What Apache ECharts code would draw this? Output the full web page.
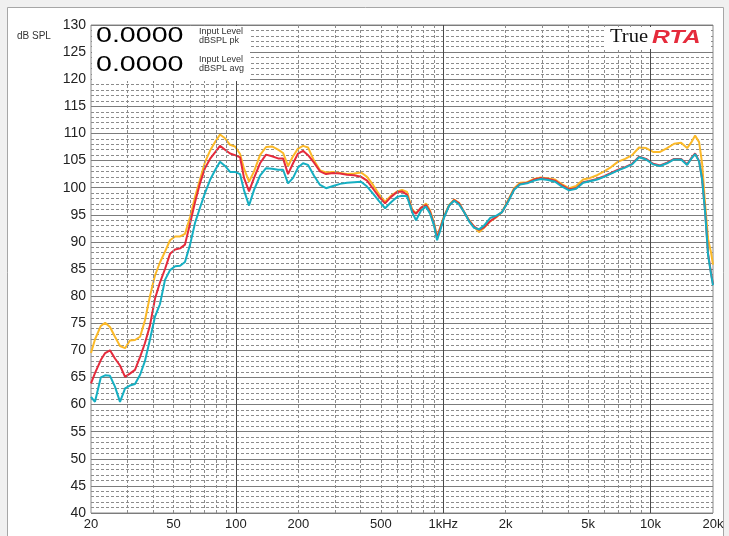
<!DOCTYPE html>
<html>
<head>
<meta charset="utf-8">
<script src="https://cdn.jsdelivr.net/npm/echarts@6/dist/echarts.min.js"></script>
<style>
  html, body { margin: 0; padding: 0; background: #f0f0f0; }
  #main { width: 729px; height: 536px; }
</style>
</head>
<body>
<div id="main"></div>
<script>
// frequency points (Hz)
var freqs = [
  20, 20.9, 22.3, 23.4, 24.7, 26.1, 27.6, 29.2, 30.8, 32.6,
  34.5, 36.4, 38.5, 40.7, 43.0, 45.5, 48.1, 50.9, 53.8, 56.8,
  60.1, 63.5, 67.1, 70.9, 75.0, 79.3, 83.8, 88.6, 93.7, 99.0,
  104.7, 109.4, 115.7, 122.3, 130.7, 139.7, 149.3, 159.7, 168.8, 178.4,
  188.6, 199.3, 210.7, 222.8, 238.1, 254.5, 272, 294.1, 318, 343.6,
  371.5, 401.5, 429.1, 458.6, 490.2, 524, 560, 598.6, 632.8, 669,
  707.3, 739.4, 781.7, 826.3, 863.9, 903.1, 933.8, 965.4, 1009, 1067,
  1128, 1192, 1260, 1332, 1408, 1488, 1573, 1682, 1798, 1922,
  2054, 2196, 2347, 2536, 2742, 2964, 3204, 3463, 3743, 4047,
  4374, 4727, 5108, 5522, 5969, 6450, 6971, 7534, 8142, 8801,
  9513, 10281, 11113, 12011, 12984, 14032, 15002, 15684, 16396, 17142,
  17722, 18324, 18942, 19582, 20000
];

// dB SPL, yellow trace
var yellowVals = [
  69.5, 72, 74.5, 75.1, 74.3, 72.5, 70.8, 70.4, 71.8, 71.9,
  72.5, 75.5, 80, 83.8, 86.2, 88.2, 90.3, 91, 91, 91.5,
  94.6, 98.3, 101.5, 104.7, 106.8, 108.4, 109.8, 109.1, 107.9, 107.6,
  106.2, 103.5, 101.1, 103, 106, 107.5, 107.6, 107, 106.4, 104,
  105.8, 107.2, 107.7, 107.4, 105, 103.2, 102.8, 102.9, 102.7, 102.5,
  102.6, 102.8, 102, 100.5, 98.8, 97.4, 98.5, 99.3, 99.6, 99.2,
  96, 95.3, 96.3, 97.1, 95.8, 93.5, 91, 92.6, 94.8, 96.8,
  97.8, 97.2, 95.5, 94, 92.8, 91.8, 92.6, 93.8, 94.5, 95.5,
  97.7, 99.9, 100.9, 101, 101.6, 101.9, 101.7, 101.5, 100.6, 99.9,
  100.3, 101.5, 101.8, 102.3, 103, 103.8, 104.8, 105.3, 106, 107.4,
  107.3, 106.6, 106.6, 107.3, 108.1, 108.3, 107.3, 108.3, 109.6, 108.4,
  104.5, 97, 90.5, 88, 85.8
];

// dB SPL, red trace
var redVals = [
  63.9, 65.8, 68.2, 69.5, 70, 68.5, 67.2, 65.1, 65.7, 66.4,
  68.8, 71.3, 74.6, 79.5, 82.5, 85, 87.8, 88.6, 88.8, 89.5,
  93.4, 97.3, 100.8, 103.6, 105.3, 106.5, 107.7, 107, 106.3, 106,
  105.6, 101.8, 99.3, 101.8, 104.5, 106.1, 105.8, 105.4, 105.4, 102.5,
  104.5, 106.3, 106.8, 106, 104.6, 103, 102.5, 102.7, 102.6, 102.4,
  102.3, 102, 101.3, 99.8, 98.3, 97.1, 98.3, 99.2, 99.3, 98.7,
  95.8, 95.2, 96.3, 96.8, 95.5, 93.2, 90.7, 92.4, 94.6, 96.7,
  97.7, 97.1, 95.5, 93.9, 92.8, 92.2, 92.7, 93.8, 94.6, 95.5,
  97.5, 99.7, 100.7, 100.9, 101.5, 101.8, 101.6, 101.3, 100.4, 99.7,
  99.9, 101, 101.3, 101.6, 102.1, 102.7, 103.3, 103.8, 104.4, 105.7,
  105.3, 104.4, 104.1, 104.6, 105.3, 105.3, 104.3, 105.4, 106.3, 104.9,
  101.6, 95.7, 87.8, 84.2, 82.2
];

// dB SPL, cyan trace
var cyanVals = [
  61.4, 60.5, 65, 65.4, 65.3, 63.3, 60.5, 63, 63.5, 63.8,
  65.5, 68, 72, 76.2, 78.5, 83, 84.8, 85.5, 85.6, 86.3,
  89.5, 93.5, 96.3, 99, 101.4, 103.2, 104.8, 104, 102.9, 102.9,
  102.5, 99.5, 96.7, 99.6, 102.2, 103.6, 103.5, 103.3, 103.3, 100.8,
  101.8, 103.7, 104.5, 104.2, 102.2, 100.5, 99.9, 100.3, 100.7, 100.9,
  101, 101.1, 100.2, 98.9, 97.5, 96.2, 97.3, 98.3, 98.5, 98.4,
  95.5, 94, 95.8, 96.5, 95.2, 93, 90.3, 92, 94.5, 96.7,
  97.6, 96.9, 95.5, 93.8, 92.6, 92.3, 93, 94.4, 94.8, 95.5,
  97.4, 99.6, 100.6, 100.8, 101.3, 101.6, 101.4, 101.1, 100.2, 99.5,
  99.8, 100.9, 101.2, 101.5, 102, 102.6, 103.2, 103.7, 104.3, 105.6,
  105.2, 104.3, 104, 104.5, 105.2, 105.2, 104.2, 105.3, 106.2, 104.8,
  101.5, 95.5, 87.5, 84, 82
];

var freqTicks = [20, 50, 100, 200, 500, 1000, 2000, 5000, 10000, 20000];
var freqTickLabels = ['20', '50', '100', '200', '500', '1kHz', '2k', '5k', '10k', '20k'];
var minorFreqs = [30, 40, 50, 60, 70, 80, 90, 200, 300, 400, 500, 600, 700, 800, 900,
  2000, 3000, 4000, 5000, 6000, 7000, 8000, 9000];
var decadeFreqs = [100, 1000, 10000];

function pairs(vals) {
  return freqs.map(function (f, i) { return [f, vals[i]]; });
}

var chartDom = document.getElementById('main');
var myChart = echarts.init(chartDom);
var option;

var font = '"Liberation Sans", Arial, sans-serif';

option = {
  backgroundColor: 'transparent',
  animation: false,
  grid: {
    left: 91, top: 25, right: 16, bottom: 23,
    show: true, backgroundColor: '#fff', borderColor: '#8a8a8a', borderWidth: 1
  },
  xAxis: {
    type: 'log', logBase: 10, min: 20, max: 20000,
    axisLine: { show: false },
    axisTick: { show: false },
    splitLine: { show: false },
    axisLabel: {
      customValues: freqTicks,
      margin: 5,
      fontSize: 13, fontFamily: 'Liberation Sans', color: '#222',
      formatter: function (v) {
        var i = freqTicks.indexOf(Math.round(v));
        return i >= 0 ? freqTickLabels[i] : '';
      }
    }
  },
  yAxis: {
    type: 'value', min: 40, max: 130, interval: 5,
    axisLine: { show: false },
    axisTick: { show: false },
    axisLabel: { margin: 5, fontSize: 14, fontFamily: 'Liberation Sans', color: '#222' },
    splitLine: { lineStyle: { color: '#7c7c7c', width: 1 } },
    minorTick: { show: false, splitNumber: 5 },
    minorSplitLine: { show: true, lineStyle: { color: '#8c8c8c', width: 1, type: [3, 2] } }
  },
  series: [
    {
      type: 'line', data: [], z: 1, silent: true,
      markLine: {
        silent: true, symbol: 'none', label: { show: false }, animation: false,
        data: minorFreqs.map(function (f) {
          return { xAxis: f, lineStyle: { color: '#8c8c8c', width: 1, type: [3, 2] } };
        }).concat(decadeFreqs.map(function (f) {
          return { xAxis: f, lineStyle: { color: '#4a4a4a', width: 1, type: 'solid' } };
        }))
      }
    },
    { name: 'yellow', type: 'line', data: pairs(yellowVals), showSymbol: false, z: 3,
      lineStyle: { color: '#fbb928', width: 2 } },
    { name: 'red', type: 'line', data: pairs(redVals), showSymbol: false, z: 4,
      lineStyle: { color: '#e52b3c', width: 2 } },
    { name: 'cyan', type: 'line', data: pairs(cyanVals), showSymbol: false, z: 5,
      lineStyle: { color: '#16afc2', width: 2 } }
  ],
  graphic: [
    { type: 'rect', z: -10, shape: { x: 7.5, y: 7.5, width: 716, height: 540 },
      style: { fill: '#fff', stroke: '#a6a6a6', lineWidth: 1 } },
    { type: 'text', z: 50, x: 17, y: 31, style: { text: 'dB SPL', font: '10px ' + font, fill: '#333' } },
    // level readout panel
    { type: 'rect', z: 50, shape: { x: 92, y: 26, width: 158, height: 55 }, style: { fill: '#fff' } },
    { type: 'text', z: 51, x: 96, y: 25, scaleX: 1.3,
      style: { text: '0.0000', font: '22px ' + font, fill: '#000' } },
    { type: 'text', z: 51, x: 96, y: 54, scaleX: 1.3,
      style: { text: '0.0000', font: '22px ' + font, fill: '#000' } },
    { type: 'text', z: 51, x: 199, y: 27, style: { text: 'Input Level', font: '9px ' + font, fill: '#333' } },
    { type: 'text', z: 51, x: 199, y: 36, style: { text: 'dBSPL pk', font: '9px ' + font, fill: '#333' } },
    { type: 'text', z: 51, x: 199, y: 55, style: { text: 'Input Level', font: '9px ' + font, fill: '#333' } },
    { type: 'text', z: 51, x: 199, y: 64, style: { text: 'dBSPL avg', font: '9px ' + font, fill: '#333' } },
    // logo
    { type: 'rect', z: 50, shape: { x: 604, y: 27, width: 106, height: 22 }, style: { fill: '#fff' } },
    { type: 'text', z: 51, x: 610, y: 28, scaleX: 1.08,
      style: { text: 'True', font: '19px "Liberation Serif", serif', fill: '#111' } },
    { type: 'text', z: 51, x: 652, y: 28, scaleX: 1.3,
      style: { text: 'RTA', font: 'italic bold 19px ' + font, fill: '#e52b3c' } }
  ]
};

option && myChart.setOption(option);
</script>
</body>
</html>
